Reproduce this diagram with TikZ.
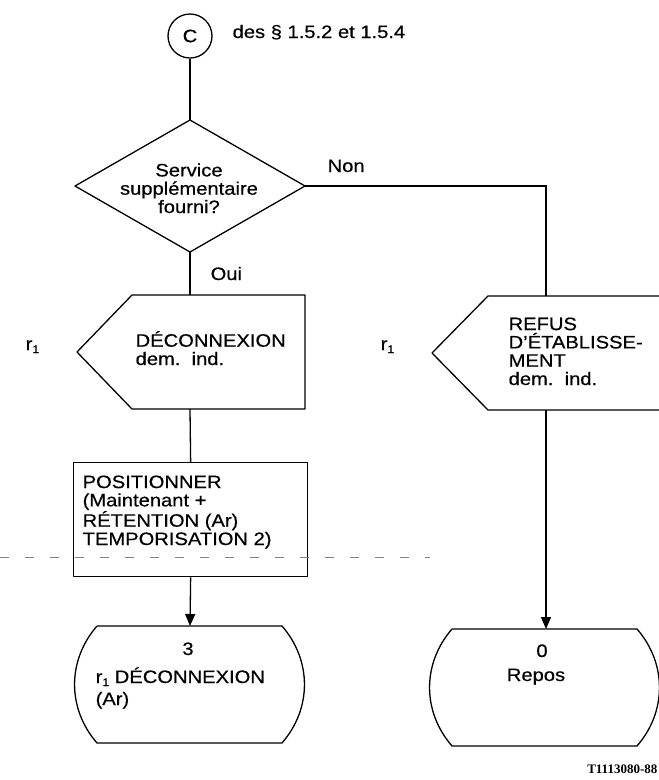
\documentclass[tikz,border=0pt]{standalone}
\usepackage{fontspec}
\setmainfont{Liberation Sans}[FakeStretch=1.12,FakeBold=0.5]
\newfontfamily\tagfont{Liberation Serif}
\usetikzlibrary{arrows.meta}
\newcommand{\rone}{r\raisebox{-3pt}{\fontsize{11}{11}\selectfont 1}}
\begin{document}
\begin{tikzpicture}[x=1pt,y=-1pt,line width=1.3pt,
  lbl/.style={font=\fontsize{18}{18.3}\selectfont,inner sep=0pt},
  txt/.style={lbl,align=left,anchor=base west},
  arr/.style={-{Triangle[length=12pt,width=10pt]}},
  shp/.style={line width=1.3pt,line join=round}]
\useasboundingbox (0,0) rectangle (659,780);
\clip (0,0) rectangle (659,780);

% connector C
\node[draw,circle,minimum size=44pt,lbl] (c) at (190,36) {C};
\node[lbl,anchor=base west] (cref) at (232,38) {des § 1.5.2 et 1.5.4};

% decision
\coordinate (dT) at (190,120);
\coordinate (dR) at (305,186);
\coordinate (dB) at (190,252);
\coordinate (dL) at (75,186);
\draw[shp] (dT) -- (dR) -- (dB) -- (dL) -- cycle;
\node[lbl,align=center,anchor=base] (dq) at (189,213) {Service\\supplémentaire\\fourni?};
\node[lbl,anchor=base west] (non) at (327,172) {Non};
\node[lbl,anchor=base west] (oui) at (210,280) {Oui};

% input DECONNEXION
\coordinate (decT) at (190,295);
\coordinate (decB) at (190,409);
\draw[shp] (77,352) -- (132,295) -- (305,295) -- (305,409) -- (132,409) -- cycle;
\node[txt] (dec) at (135,365) {DÉCONNEXION\\dem.\ \ ind.};
\node[lbl,anchor=base west] (r1a) at (25,350) {\rone};

% input REFUS
\coordinate (refT) at (546,296);
\coordinate (refB) at (546,410);
\draw[shp] (432,353) -- (488,296) -- (690,296) -- (690,410) -- (488,410) -- cycle;
\node[txt] (ref) at (508,385) {REFUS\\D’ÉTABLISSE-\\MENT\\dem.\ \ ind.};
\node[lbl,anchor=base west] (r1b) at (380,350) {\rone};

% task
\node[draw,shp,minimum width=234pt,minimum height=114pt,anchor=north west] (pos) at (73,462) {};
\node[txt] (post) at (82,545) {POSITIONNER\\(Maintenant +\\RÉTENTION (Ar)\\TEMPORISATION 2)};

% state 3
\coordinate (s3T) at (190,626);
\draw[shp] (97,626) -- (282,626) to[bend left=41] (282,743) -- (97,743) to[bend left=41] (97,626);
\node[lbl,anchor=base] (s3n) at (188,655) {3};
\node[lbl,anchor=base west] (s3a) at (95,683) {\rone\ DÉCONNEXION};
\node[lbl,anchor=base west] (s3b) at (95,705) {(Ar)};

% state 0
\coordinate (s0T) at (546,629);
\draw[shp] (452,629) -- (637,629) to[bend left=41] (637,746) -- (452,746) to[bend left=41] (452,629);
\node[lbl,anchor=base] (s0n) at (542,657) {0};
\node[lbl,anchor=base] (s0b) at (536,681) {Repos};

% connectors
\draw (c.south) -- (dT);
\draw (dB) -- (decT);
\draw (dR) -| (refT);
\draw (decB) -- (pos.north);
\draw[arr] (pos.south) -- (s3T);
\draw[arr] (refB) -- (s0T);

% scan artefact line
\draw[line width=0.6pt,dash pattern=on 9pt off 16pt,gray] (0,557) -- (430,557);

\node[font=\tagfont\bfseries\fontsize{13}{13}\selectfont,anchor=base east,inner sep=0pt] (tag) at (658,773) {T1113080-88};
\end{tikzpicture}
\end{document}
